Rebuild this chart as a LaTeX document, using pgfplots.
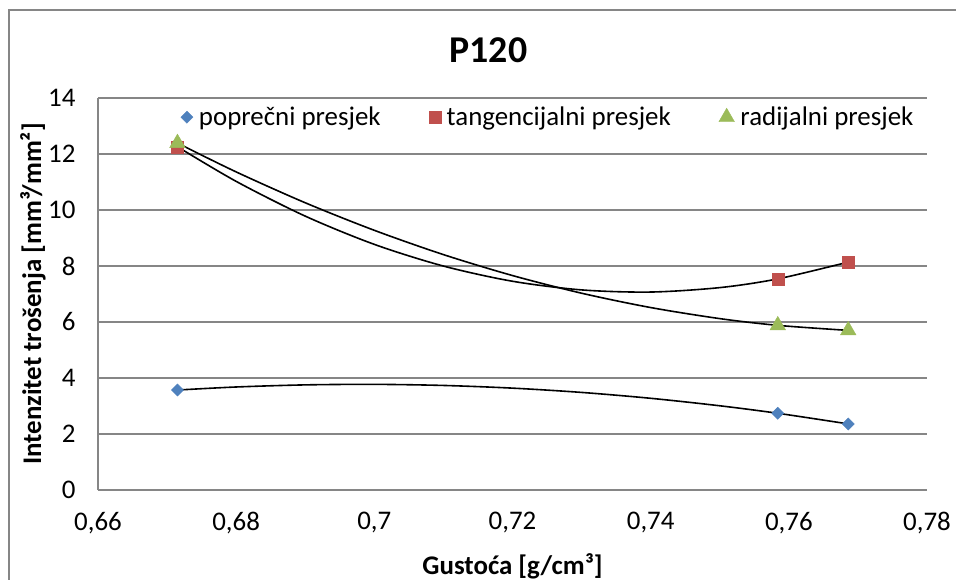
\documentclass[border=0pt]{standalone}
\usepackage{pgfplots}
\pgfplotsset{compat=1.18}
\usepackage{fontspec}
\setmainfont{Carlito}
\definecolor{cblue}{HTML}{4F81BD}
\definecolor{cred}{HTML}{C0504D}
\definecolor{cgreen}{HTML}{9BBB59}
\definecolor{cgrid}{HTML}{868686}
\begin{document}
\begin{tikzpicture}
\useasboundingbox (0bp,0bp) rectangle (956bp,580bp);
\begin{scope}
\clip (0bp,0bp) rectangle (956bp,580bp);
\draw[cgrid, line width=1.2bp] (9bp,-20bp) -- (9bp,570bp) -- (980bp,570bp);
\end{scope}
\begin{axis}[
  at={(98bp,90bp)}, anchor=south west,
  width=829bp, height=392bp, scale only axis,
  xmin=0.66, xmax=0.78, ymin=0, ymax=14,
  xtick={0.66,0.68,0.70,0.72,0.74,0.76,0.78},
  ytick={0,2,4,6,8,10,12,14},
  ymajorgrids,
  grid style={cgrid, line width=1.2bp},
  axis x line*=bottom, axis y line*=left,
  axis line style={cgrid, line width=1.2bp, -},
  major tick length=0pt,
  tick label style={font=\fontsize{27}{27}\selectfont, black},
  yticklabel style={xshift=-19bp},
  xticklabel style={yshift=-19bp},
  /pgf/number format/.cd, use comma, 1000 sep={}, assume math mode=true,
  /pgfplots/.cd,
  title={\textbf{P120}},
  title style={font=\fontsize{38}{38}\selectfont, at={(axis description cs:0.5,1)}, anchor=center, yshift=42bp, xshift=-24bp},
  xlabel={\textbf{Gustoća [g/cm³]}},
  xlabel style={font=\fontsize{27}{27}\selectfont, at={(axis description cs:0.5,0)}, anchor=center, yshift=-76bp},
  ylabel={\textbf{Intenzitet trošenja [mm³/mm²]}},
  ylabel style={font=\fontsize{27}{27}\selectfont, at={(axis description cs:0,0.5)}, anchor=center, yshift=65bp},
  legend style={draw=none, fill=none, at={(0.543,0.951)}, anchor=center,
    font=\fontsize{27}{27}\selectfont, legend columns=3,
    /tikz/every odd column/.append style={column sep=4bp},
    /tikz/every even column/.append style={column sep=46bp}},
]
\addplot[only marks, mark=square*, mark size=4.3bp, mark options={rotate=45, fill=cblue, draw=cblue}]
  coordinates {(0.6715,3.57) (0.7584,2.74) (0.7686,2.36)};
\addlegendentry{poprečni presjek}
\addplot[only marks, mark=square*, mark size=6bp, mark options={fill=cred, draw=cred}]
  coordinates {(0.6715,12.26) (0.7584,7.54) (0.7686,8.14)};
\addlegendentry{tangencijalni presjek}
\addplot[only marks, mark=triangle*, mark size=9bp, mark options={fill=cgreen, draw=cgreen}]
  coordinates {(0.6715,12.39) (0.7584,5.88) (0.7686,5.70)};
\addlegendentry{radijalni presjek}
% trend lines
\addplot[forget plot, black, line width=1.6bp, smooth] coordinates {
  (0.6715,3.57) (0.68,3.679) (0.69,3.754) (0.70,3.773) (0.71,3.734) (0.72,3.638)
  (0.73,3.485) (0.74,3.275) (0.75,3.008) (0.7584,2.74) (0.7686,2.36)};
\addplot[forget plot, black, line width=1.6bp, smooth] coordinates {
  (0.6715,12.26) (0.68,11.022) (0.69,9.781) (0.70,8.772) (0.71,7.998) (0.72,7.455)
  (0.73,7.146) (0.74,7.070) (0.75,7.228) (0.7584,7.54) (0.7686,8.14)};
\addplot[forget plot, black, line width=1.6bp, smooth] coordinates {
  (0.6715,12.39) (0.68,11.360) (0.69,10.258) (0.70,9.274) (0.71,8.407) (0.72,7.659)
  (0.73,7.028) (0.74,6.516) (0.75,6.121) (0.7584,5.88) (0.7686,5.70)};
\end{axis}
\end{tikzpicture}
\end{document}
